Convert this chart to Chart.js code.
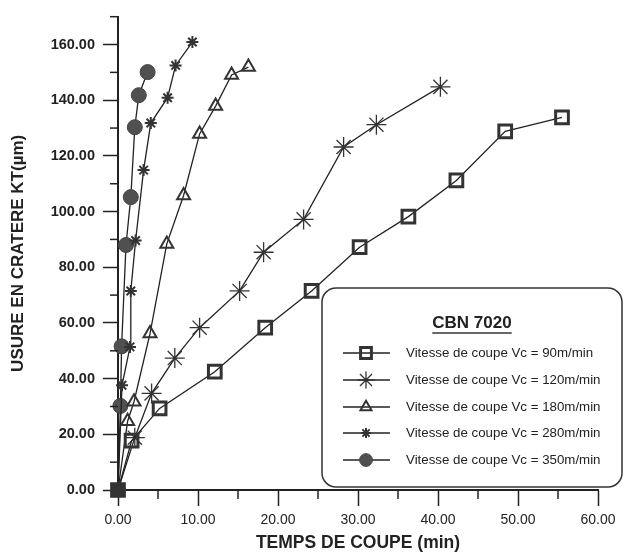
<!DOCTYPE html>
<html>
<head>
<meta charset="utf-8">
<script src="https://cdn.jsdelivr.net/npm/chart.js@4.4.1/dist/chart.umd.min.js"></script>
<style>
  body { margin: 0; background: #fff; }
  canvas { display: block; }
</style>
</head>
<body>
<canvas id="chart" width="631" height="557"></canvas>
<script>
// --- DATA ---
const legendTitle = "CBN 7020";
const seriesNames = [
    "Vitesse de coupe Vc = 90m/min",
    "Vitesse de coupe Vc = 120m/min",
    "Vitesse de coupe Vc = 180m/min",
    "Vitesse de coupe Vc = 280m/min",
    "Vitesse de coupe Vc = 350m/min"
];

// temps de coupe (min) / usure KT (µm)
const t90 = [0, 1.7, 5.2, 12.1, 18.4, 24.2, 30.2, 36.3, 42.3, 48.4, 55.5];
const kt90 = [0, 17.7, 29.3, 42.5, 58.3, 71.5, 87.2, 98.2, 111.2, 128.8, 133.8];

const t120 = [0, 2.1, 4.2, 7.1, 10.2, 15.2, 18.2, 23.2, 28.2, 32.3, 40.3];
const kt120 = [0, 18.8, 34.7, 47.4, 58.3, 71.5, 85.4, 97.2, 123.2, 131.2, 144.8];

const t180 = [0, 1.2, 2.0, 4.0, 6.1, 8.2, 10.2, 12.2, 14.2, 16.3];
const kt180 = [0, 24.7, 31.7, 56.2, 88.4, 105.8, 127.9, 137.9, 149.1, 151.9];

const t280 = [0, 0.5, 1.5, 1.6, 2.2, 3.2, 4.1, 6.2, 7.2, 9.3];
const kt280 = [0, 37.6, 51.4, 71.5, 89.6, 114.9, 131.8, 140.9, 152.5, 160.9];

const t350 = [0, 0.3, 0.45, 1.0, 1.6, 2.1, 2.6, 3.7];
const kt350 = [0, 30.2, 51.6, 88.0, 105.2, 130.3, 141.8, 150.1];

const xTitle = "TEMPS DE COUPE (min)";
const yTitle = "USURE EN CRATERE KT(µm)";

// --- HELPERS ---
const FONT = '"Liberation Sans", Arial, Helvetica, sans-serif';
const INK = '#222222';

function toPoints(xs, ys) {
    return xs.map((x, i) => ({ x: x, y: ys[i] }));
}

// marker styles per series
const markers = [
    { pointStyle: 'rect', radius: 9, borderWidth: 3, fill: 'rgba(0,0,0,0)', stroke: '#333' },
    { pointStyle: 'star', radius: 10, borderWidth: 1.3, fill: 'rgba(0,0,0,0)', stroke: '#333' },
    { pointStyle: 'triangle', radius: 7.5, borderWidth: 2, fill: 'rgba(0,0,0,0)', stroke: '#333' },
    { pointStyle: 'star', radius: 6, borderWidth: 2, fill: 'rgba(0,0,0,0)', stroke: '#333' },
    { pointStyle: 'circle', radius: 7.5, borderWidth: 1, fill: '#505050', stroke: '#444' }
];

const allData = [
    toPoints(t90, kt90),
    toPoints(t120, kt120),
    toPoints(t180, kt180),
    toPoints(t280, kt280),
    toPoints(t350, kt350)
];

const datasets = allData.map((pts, i) => {
    const m = markers[i];
    return {
        label: seriesNames[i],
        data: pts,
        borderColor: INK,
        borderWidth: 1.3,
        tension: 0,
        clip: false,
        pointStyle: m.pointStyle,
        // origin shared by every curve: drawn once, as the filled square
        pointRadius: ctx => (ctx.dataIndex === 0 && i !== 0) ? 0 : m.radius,
        pointHoverRadius: m.radius,
        pointBorderWidth: m.borderWidth,
        pointBorderColor: m.stroke,
        pointBackgroundColor: ctx => (i === 0 && ctx.dataIndex === 0) ? '#333' : m.fill
    };
});

// --- minor ticks (shorter) ---
const minorTicks = {
    id: 'minorTicks',
    afterDraw(chart) {
        const ctx = chart.ctx;
        const xs = chart.scales.x, ys = chart.scales.y;
        ctx.save();
        ctx.strokeStyle = INK;
        ctx.lineWidth = 1.5;
        xs.ticks.forEach(t => {
            if (t.value % 10 !== 0) {
                const px = xs.getPixelForValue(t.value);
                ctx.beginPath();
                ctx.moveTo(px, xs.top);
                ctx.lineTo(px, xs.top + 9);
                ctx.stroke();
            }
        });
        ys.ticks.forEach(t => {
            if (t.value % 20 !== 0) {
                const py = ys.getPixelForValue(t.value);
                ctx.beginPath();
                ctx.moveTo(ys.right, py);
                ctx.lineTo(ys.right - 8, py);
                ctx.stroke();
            }
        });
        ctx.restore();
    }
};

// --- boxed legend with title ---
const boxLegend = {
    id: 'boxLegend',
    afterDraw(chart) {
        const ctx = chart.ctx;
        const left = 322, top = 288, right = 622, bottom = 487, r = 14;
        ctx.save();
        ctx.fillStyle = '#fff';
        ctx.strokeStyle = '#333';
        ctx.lineWidth = 1.5;
        ctx.beginPath();
        ctx.roundRect(left, top, right - left, bottom - top, r);
        ctx.fill();
        ctx.stroke();

        // title
        ctx.fillStyle = INK;
        ctx.font = 'bold 17px ' + FONT;
        ctx.textAlign = 'center';
        ctx.textBaseline = 'middle';
        const tx = 472, ty = 323;
        ctx.fillText(legendTitle, tx, ty);
        const tw = ctx.measureText(legendTitle).width;
        ctx.lineWidth = 1.5;
        ctx.beginPath();
        ctx.moveTo(tx - tw / 2, ty + 10);
        ctx.lineTo(tx + tw / 2, ty + 10);
        ctx.stroke();

        // entries
        const rows = [353, 380, 407, 433, 460];
        ctx.font = '13.3px ' + FONT;
        ctx.textAlign = 'left';
        chart.data.datasets.forEach((ds, i) => {
            const y = rows[i];
            const m = markers[i];
            ctx.strokeStyle = INK;
            ctx.lineWidth = 1.3;
            ctx.beginPath();
            ctx.moveTo(343, y);
            ctx.lineTo(390, y);
            ctx.stroke();

            ctx.fillStyle = m.fill;
            ctx.strokeStyle = m.stroke;
            ctx.lineWidth = m.borderWidth;
            Chart.helpers.drawPoint(ctx, {
                pointStyle: m.pointStyle,
                radius: m.radius * 0.85,
                rotation: 0,
                borderWidth: m.borderWidth
            }, 366, y);

            ctx.fillStyle = INK;
            ctx.fillText(ds.label, 406, y);
        });
        ctx.restore();
    }
};

new Chart(document.getElementById('chart'), {
    type: 'line',
    data: { datasets: datasets },
    options: {
        responsive: false,
        animation: false,
        layout: { padding: { top: 8, right: 33, bottom: 0, left: 0 } },
        plugins: {
            legend: { display: false },
            tooltip: { enabled: false }
        },
        scales: {
            x: {
                type: 'linear',
                min: 0,
                max: 60,
                afterFit: s => { s.height = 67; },
                grid: {
                    drawOnChartArea: false,
                    drawTicks: true,
                    tickLength: 16,
                    tickWidth: 1.5,
                    tickColor: c => c.tick && c.tick.value % 10 === 0 ? INK : 'rgba(0,0,0,0)'
                },
                border: { display: true, color: INK, width: 2 },
                ticks: {
                    stepSize: 5,
                    autoSkip: false,
                    maxRotation: 0,
                    padding: 6,
                    color: INK,
                    font: { family: FONT, size: 14 },
                    callback: v => v % 10 === 0 ? v.toFixed(2) : ''
                },
                title: {
                    display: true,
                    text: xTitle,
                    color: INK,
                    font: { family: FONT, size: 17.5, weight: 'bold' },
                    padding: { top: 0, bottom: 3 }
                }
            },
            y: {
                type: 'linear',
                min: 0,
                max: 170,
                afterFit: s => { s.width = 118; },
                grid: {
                    drawOnChartArea: false,
                    drawTicks: true,
                    tickLength: 15,
                    tickWidth: 1.5,
                    tickColor: c => c.tick && c.tick.value % 20 === 0 ? INK : 'rgba(0,0,0,0)'
                },
                border: { display: true, color: INK, width: 2 },
                ticks: {
                    stepSize: 10,
                    autoSkip: false,
                    padding: 8,
                    color: INK,
                    font: { family: FONT, size: 14.5, weight: 'bold' },
                    callback: v => v % 20 === 0 ? v.toFixed(2) : ''
                },
                title: {
                    display: true,
                    text: yTitle,
                    color: INK,
                    font: { family: FONT, size: 17, weight: 'bold' },
                    padding: { top: 8, bottom: 0 }
                }
            }
        }
    },
    plugins: [minorTicks, boxLegend]
});
</script>
</body>
</html>
